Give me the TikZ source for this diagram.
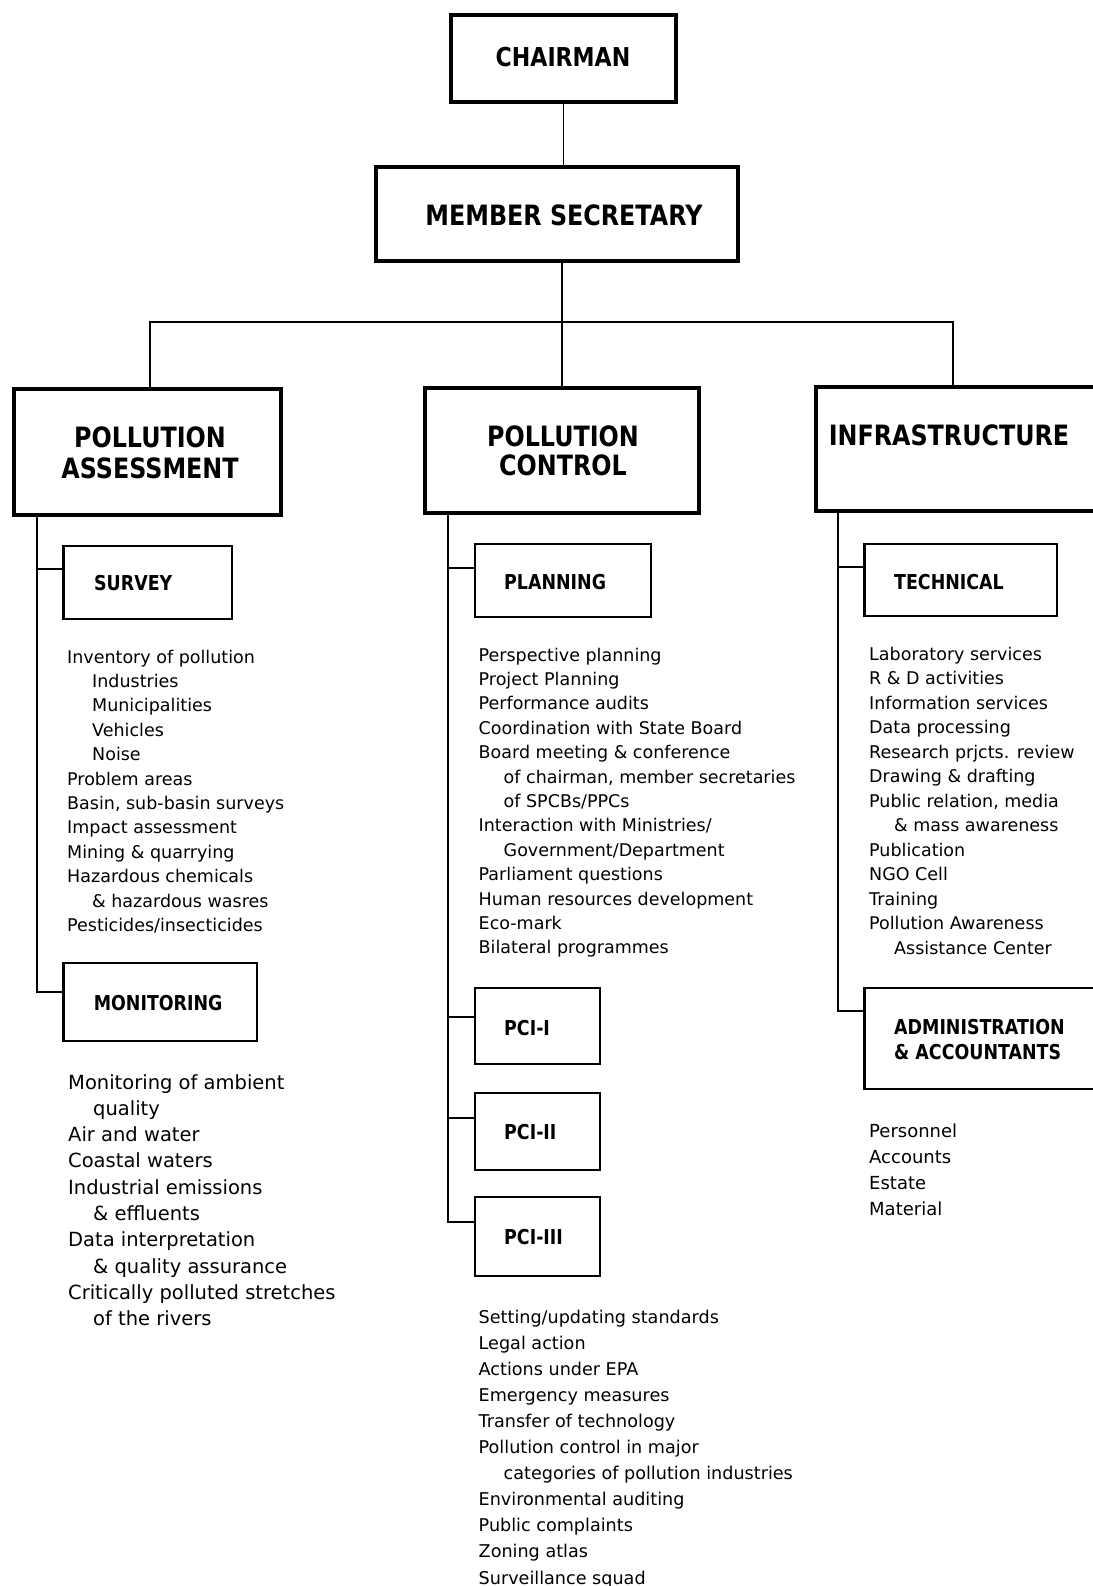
\documentclass[tikz,border=0pt]{standalone}
\usepackage{fontspec}
\setmainfont{DejaVu Sans}
\newfontfamily\hdfont{DejaVu Sans}[FakeStretch=0.85]

% indentation for continuation lines
\newcommand\ind{\hspace*{25pt}}
% a block of list text: size, line distance, lines
\newcommand\itemtext[3]{\parbox[t]{360pt}{\fontsize{#1}{#2}\selectfont\raggedright #3}}

\tikzset{
  bigbox/.style={draw, line width=3.6pt, inner sep=0pt},
  subbox/.style={draw, line width=2.4pt, inner sep=0pt},
  link/.style={line width=1.4pt},
  bighead/.style={inner sep=0pt, align=center, font=\hdfont\bfseries\fontsize{28}{31}\selectfont},
  subhead/.style={inner sep=0pt, anchor=west, align=left, font=\hdfont\bfseries\fontsize{20.5}{25}\selectfont},
  itemlist/.style={inner sep=0pt, anchor=base west},
}

\begin{document}
\begin{tikzpicture}[x=1pt,y=-1pt]
\path[use as bounding box, fill=white] (0,0) rectangle (1092,1586);

% ---- top levels ----
\node[bigbox, minimum width=225pt, minimum height=87pt] (chair) at (563.5,58.5) {};
\node[bighead, font=\hdfont\bfseries\fontsize{26}{30}\selectfont] (chairT) at (563,57) {CHAIRMAN};

\node[bigbox, minimum width=362pt, minimum height=94pt] (ms) at (557,214) {};
\node[bighead] (msT) at (564,215) {MEMBER SECRETARY};

\node[bigbox, minimum width=267pt, minimum height=126pt] (pa) at (147.5,452) {};
\node[bighead] (paT) at (150,452.5) {POLLUTION\\ASSESSMENT};

\node[bigbox, minimum width=274pt, minimum height=125pt] (pc) at (562,450.5) {};
\node[bighead] (pcT) at (563,450.5) {POLLUTION\\[-2pt]CONTROL};

\node[bigbox, minimum width=284pt, minimum height=124pt] (inf) at (958,449) {};
\node[bighead] (infT) at (949,435) {INFRASTRUCTURE};

% ---- upper connectors ----
\coordinate (busL) at (150,322);
\coordinate (busR) at (953,322);
\draw[link] (chair.south) -- (chair.south |- ms.north);
\draw[link] (ms.south -| pc.north) -- (pc.north);
\draw[link] (busL |- pa.north) -- (busL) -- (busR) -- (busR |- inf.north);

% ---- pollution assessment branch ----
\node[subbox, minimum width=168.5pt, minimum height=73pt] (sur) at (147.75,582.5) {};
\node[subhead] (surT) at (94,583) {SURVEY};
\node[subbox, minimum width=193.5pt, minimum height=78pt] (mon) at (160.25,1002) {};
\node[subhead] (monT) at (93.6,1003) {MONITORING};

\coordinate (aS) at (37,569);
\coordinate (aM) at (37,992);
\draw[link] (aS |- pa.south) -- (aM) -- (aM -| mon.west);
\draw[link] (aS) -- (aS -| sur.west);

\node[itemlist] (surL) at (67,663) {\itemtext{17.5}{24.4}{%
Inventory of pollution\\
\ind Industries\\
\ind Municipalities\\
\ind Vehicles\\
\ind Noise\\
Problem areas\\
Basin, sub-basin surveys\\
Impact assessment\\
Mining \& quarrying\\
Hazardous chemicals\\
\ind \& hazardous wasres\\
Pesticides/insecticides}};

\node[itemlist] (monL) at (68,1089) {\itemtext{19.5}{26.3}{%
Monitoring of ambient\\
\ind quality\\
Air and water\\
Coastal waters\\
Industrial emissions\\
\ind \& effluents\\
Data interpretation\\
\ind \& quality assurance\\
Critically polluted stretches\\
\ind of the rivers}};

% ---- pollution control branch ----
\node[subbox, minimum width=176pt, minimum height=73pt] (plan) at (563,580.5) {};
\node[subhead] (planT) at (504,582) {PLANNING};
\node[subbox, minimum width=125pt, minimum height=76pt] (pci1) at (537.5,1026) {};
\node[subhead] (pci1T) at (504,1028) {PCI-I};
\node[subbox, minimum width=125pt, minimum height=77pt] (pci2) at (537.5,1131.5) {};
\node[subhead] (pci2T) at (504,1132) {PCI-II};
\node[subbox, minimum width=125pt, minimum height=79pt] (pci3) at (537.5,1236.5) {};
\node[subhead] (pci3T) at (504,1237) {PCI-III};

\coordinate (cP) at (448,568);
\coordinate (c1) at (448,1017);
\coordinate (c2) at (448,1118);
\coordinate (c3) at (448,1222);
\draw[link] (cP |- pc.south) -- (c3) -- (c3 -| pci3.west);
\draw[link] (cP) -- (cP -| plan.west);
\draw[link] (c1) -- (c1 -| pci1.west);
\draw[link] (c2) -- (c2 -| pci2.west);

\node[itemlist] (planL) at (478.5,661) {\itemtext{17.5}{24.4}{%
Perspective planning\\
Project Planning\\
Performance audits\\
Coordination with State Board\\
Board meeting \& conference\\
\ind of chairman, member secretaries\\
\ind of SPCBs/PPCs\\
Interaction with Ministries/\\
\ind Government/Department\\
Parliament questions\\
Human resources development\\
Eco-mark\\
Bilateral programmes}};

\node[itemlist] (pciL) at (478.5,1323) {\itemtext{17.6}{26.1}{%
Setting/updating standards\\
Legal action\\
Actions under EPA\\
Emergency measures\\
Transfer of technology\\
Pollution control in major\\
\ind categories of pollution industries\\
Environmental auditing\\
Public complaints\\
Zoning atlas\\
Surveillance squad}};

% ---- infrastructure branch ----
\node[subbox, minimum width=192.5pt, minimum height=72pt] (tech) at (960.75,580) {};
\node[subhead] (techT) at (894,582) {TECHNICAL};
\node[subbox, minimum width=235.5pt, minimum height=101pt] (adm) at (982.25,1038.5) {};
\node[subhead] (admT) at (894,1039.5) {ADMINISTRATION\\\& ACCOUNTANTS};

\coordinate (iT) at (838,567);
\coordinate (iA) at (838,1011);
\draw[link] (iT |- inf.south) -- (iA) -- (iA -| adm.west);
\draw[link] (iT) -- (iT -| tech.west);

\node[itemlist] (techL) at (869,660) {\itemtext{17.5}{24.5}{%
Laboratory services\\
R \& D activities\\
Information services\\
Data processing\\
Research prjcts. review\\
Drawing \& drafting\\
Public relation, media\\
\ind \& mass awareness\\
Publication\\
NGO Cell\\
Training\\
Pollution Awareness\\
\ind Assistance Center}};

\node[itemlist] (admL) at (869,1137) {\itemtext{18}{26}{%
Personnel\\
Accounts\\
Estate\\
Material}};
\end{tikzpicture}
\end{document}
